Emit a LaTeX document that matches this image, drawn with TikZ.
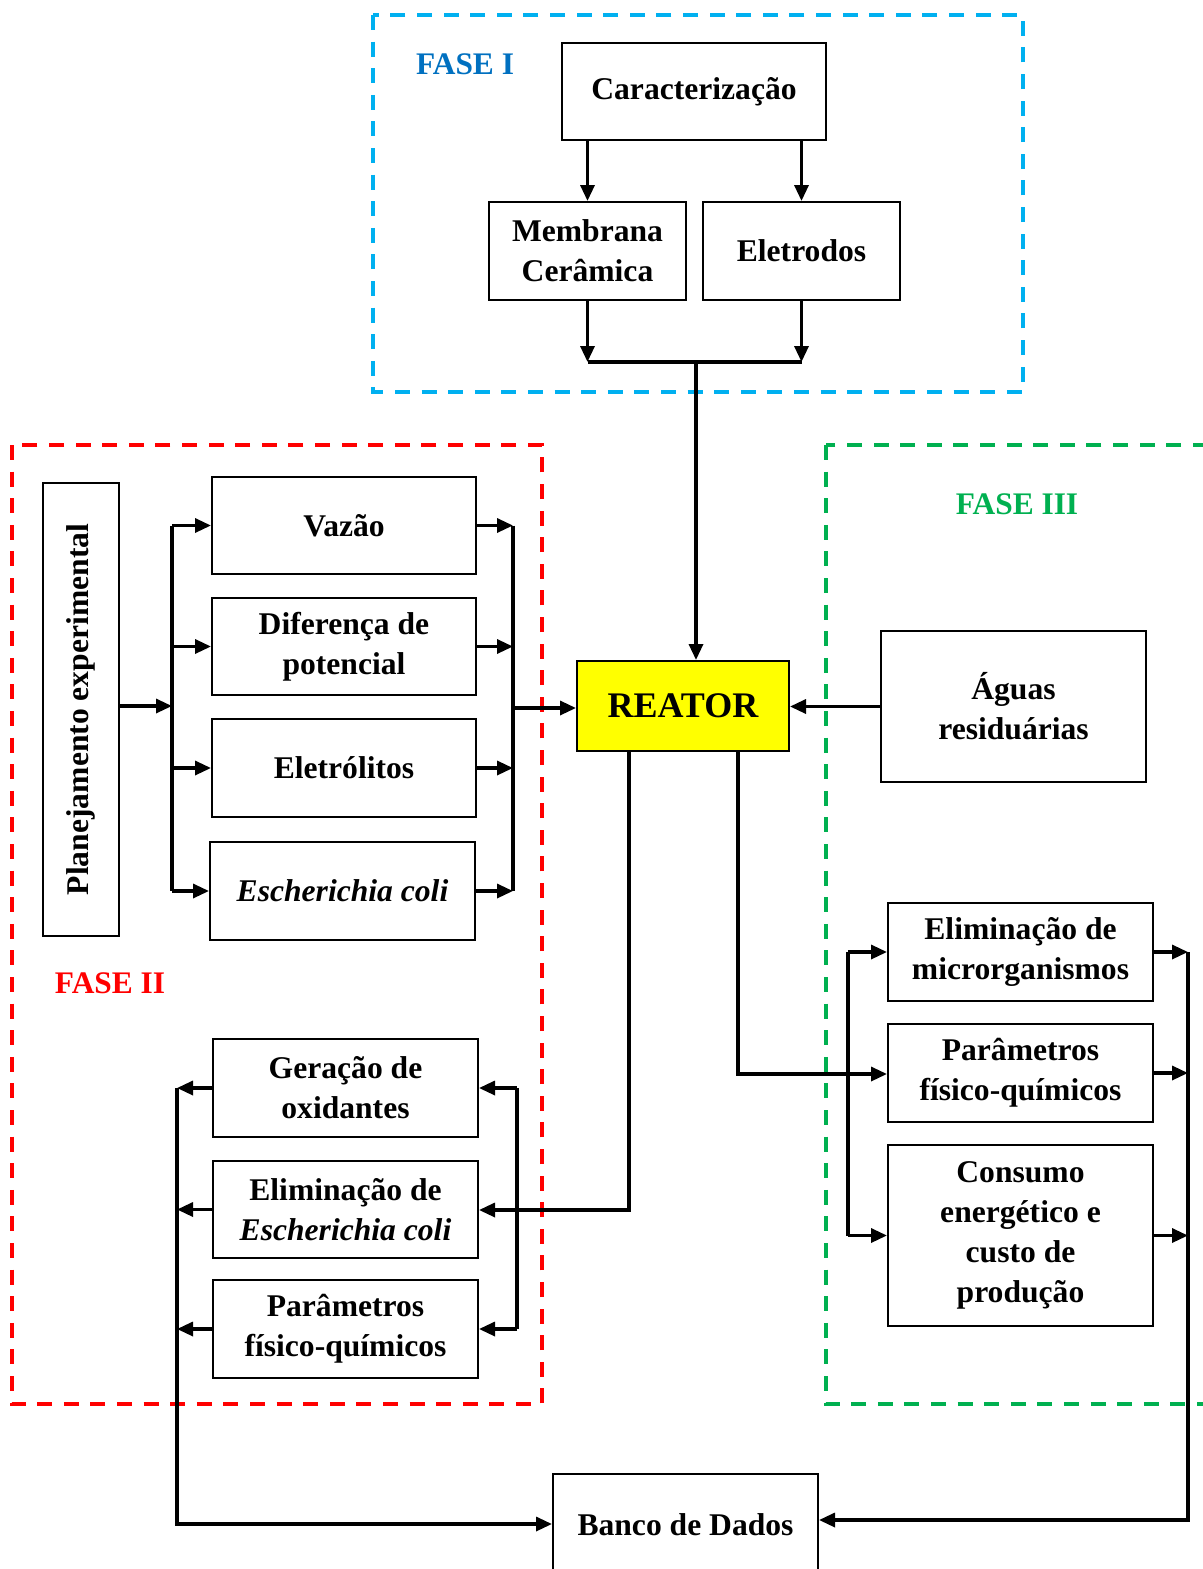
\documentclass[tikz,border=0pt]{standalone}
\usepackage{fontspec}
\setmainfont{Liberation Serif}
\usetikzlibrary{arrows.meta}
\definecolor{fblue}{HTML}{00B0F0}
\definecolor{fbluetxt}{HTML}{0070C0}
\definecolor{fred}{HTML}{FF0000}
\definecolor{fgreen}{HTML}{00B050}
\definecolor{ryellow}{HTML}{FFFF00}
\begin{document}
\begin{tikzpicture}[x=0.5pt,y=-0.5pt,
  box/.style={draw, line width=1pt, inner sep=0pt, align=center,
    font=\bfseries\fontsize{15.8}{20}\selectfont},
  ln/.style={line width=1.65pt},
  arr/.style={ln, -{Triangle[length=8pt,width=7pt]}},
  phase/.style={line width=1.7pt, dash pattern=on 7.5pt off 5.8pt},
  phlabel/.style={font=\bfseries\fontsize{15.7}{19}\selectfont}]
\useasboundingbox (0,0) rectangle (1203,1569);
\clip (0,0) rectangle (1203,1569);

% phase frames
\draw[phase, fblue] (373,15) rectangle (1023,392);
\draw[phase, fred] (12,445) rectangle (542,1404);
\draw[phase, fgreen] (826,445) rectangle (1215,1404);

\node[phlabel, text=fbluetxt] (f1) at (465,64) {FASE I};
\node[phlabel, text=fred] (f2) at (110,983) {FASE II};
\node[phlabel, text=fgreen] (f3) at (1017,504) {FASE III};

% Fase I
\node[box, minimum width=132pt, minimum height=48.5pt] (car) at (694,91.5) {Caracterização};
\node[box, minimum width=98.5pt, minimum height=49pt] (mem) at (587.5,251) {Membrana\\Cerâmica};
\node[box, minimum width=98.5pt, minimum height=49pt] (ele) at (801.5,251) {Eletrodos};

% Reator
\node[box, fill=ryellow, minimum width=106pt, minimum height=45pt,
  font=\bfseries\fontsize{18}{22}\selectfont] (rea) at (683,706) {REATOR};

% Fase II
\node[box, rotate=90, minimum width=226.5pt, minimum height=38pt] (plan) at (81,709.5) {Planejamento experimental};
\node[box, minimum width=132pt, minimum height=48.5pt] (vaz) at (344,525.5) {Vazão};
\node[box, minimum width=132pt, minimum height=48.5pt] (dif) at (344,646.5) {Diferença de\\potencial};
\node[box, minimum width=132pt, minimum height=49pt] (elt) at (344,768) {Eletrólitos};
\node[box, minimum width=132.5pt, minimum height=49pt] (esc) at (342.5,891) {\textit{Escherichia coli}};

\node[box, minimum width=132.5pt, minimum height=49pt] (ger) at (345.5,1088) {Geração de\\oxidantes};
\node[box, minimum width=132.5pt, minimum height=48.5pt] (elim) at (345.5,1209.5) {Eliminação de\\\textit{Escherichia coli}};
\node[box, minimum width=132.5pt, minimum height=49pt] (par2) at (345.5,1329) {Parâmetros\\físico-químicos};

% Banco de dados
\node[box, minimum width=132.5pt, minimum height=51pt] (banco) at (685.5,1525) {Banco de Dados};

% Fase III
\node[box, minimum width=132.5pt, minimum height=75.5pt] (agu) at (1013.5,706.5) {Águas\\residuárias};
\node[box, minimum width=132.5pt, minimum height=49pt] (elm) at (1020.5,952) {Eliminação de\\microrganismos};
\node[box, minimum width=132.5pt, minimum height=49pt] (par3) at (1020.5,1073) {Parâmetros\\físico-químicos};
\node[box, minimum width=132.5pt, minimum height=90.5pt] (cons) at (1020.5,1235.5) {Consumo\\energético e\\custo de\\produção};

% ---- connectors Fase I
\coordinate (j1) at (696,362);
\draw[arr] (car.south -| mem.north) -- (mem.north);
\draw[arr] (car.south -| ele.north) -- (ele.north);
\draw[arr] (mem.south) -- (mem.south |- j1);
\draw[arr] (ele.south) -- (ele.south |- j1);
\draw[ln] (mem.south |- j1) -- (ele.south |- j1);
\draw[arr] (j1) -- (rea.north -| j1);

% ---- connectors Fase II (inputs)
\coordinate (L) at (172,706);
\draw[arr] (plan.south |- L) -- (L);
\draw[ln] (L |- vaz.west) -- (L |- esc.west);
\draw[arr] (L |- vaz.west) -- (vaz.west);
\draw[arr] (L |- dif.west) -- (dif.west);
\draw[arr] (L |- elt.west) -- (elt.west);
\draw[arr] (L |- esc.west) -- (esc.west);

\coordinate (R) at (513,708);
\draw[arr] (vaz.east) -- (R |- vaz.east);
\draw[arr] (dif.east) -- (R |- dif.east);
\draw[arr] (elt.east) -- (R |- elt.east);
\draw[arr] (esc.east) -- (R |- esc.east);
\draw[ln] (R |- vaz.east) -- (R |- esc.east);
\draw[arr] (R) -- (rea.west |- R);

% ---- Reator to Fase II outputs
\coordinate (rd1) at (629,1210);
\draw[arr] (rea.south -| rd1) -- (rd1) -- (elim.east |- rd1);
\coordinate (RR) at (517,1210);
\draw[ln] (RR |- ger.east) -- (RR |- par2.east);
\draw[arr] (RR |- ger.east) -- (ger.east);
\draw[arr] (RR |- par2.east) -- (par2.east);

\coordinate (BL) at (177,1524);
\draw[arr] (ger.west) -- (BL |- ger.west);
\draw[arr] (elim.west) -- (BL |- elim.west);
\draw[arr] (par2.west) -- (BL |- par2.west);
\draw[arr] (BL |- ger.west) -- (BL) -- (banco.west |- BL);

% ---- Fase III
\draw[arr] (agu.west) -- (rea.east |- agu.west);
\coordinate (rd2) at (738,1074);
\draw[arr] (rea.south -| rd2) -- (rd2) -- (par3.west |- rd2);
\coordinate (XL) at (848,1100);
\draw[ln] (XL |- elm.west) -- (XL |- cons.west);
\draw[arr] (XL |- elm.west) -- (elm.west);
\draw[arr] (XL |- cons.west) -- (cons.west);

\coordinate (XR) at (1188,1520);
\draw[arr] (elm.east) -- (XR |- elm.east);
\draw[arr] (par3.east) -- (XR |- par3.east);
\draw[arr] (cons.east) -- (XR |- cons.east);
\draw[arr] (XR |- elm.east) -- (XR) -- (banco.east |- XR);
\end{tikzpicture}
\end{document}
